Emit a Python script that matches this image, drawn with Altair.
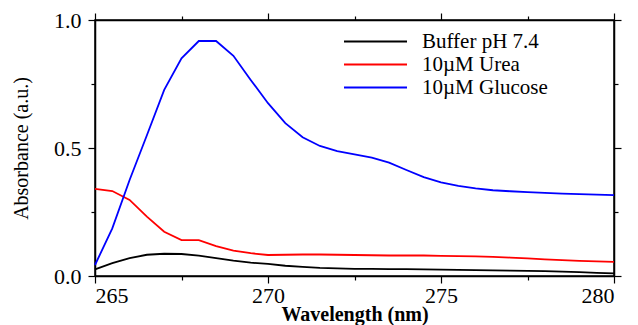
import altair as alt
import pandas as pd

wavelength = [265, 265.5, 266, 266.5, 267, 267.5, 268, 268.5, 269, 269.5, 270,
              270.5, 271, 271.5, 272, 272.5, 273, 273.5, 274, 274.5, 275,
              275.5, 276, 276.5, 277, 277.5, 278, 278.5, 279, 279.5, 280]
buffer = [0.026, 0.05, 0.07, 0.083, 0.087, 0.086, 0.08, 0.07, 0.06, 0.052, 0.047,
          0.04, 0.036, 0.032, 0.030, 0.028, 0.028, 0.027, 0.027, 0.026, 0.025,
          0.024, 0.023, 0.022, 0.021, 0.020, 0.019, 0.017, 0.015, 0.012, 0.010]
urea = [0.34, 0.332, 0.297, 0.232, 0.173, 0.14, 0.14, 0.117, 0.099, 0.089, 0.082,
        0.083, 0.084, 0.084, 0.083, 0.082, 0.081, 0.080, 0.080, 0.080, 0.079,
        0.078, 0.077, 0.075, 0.072, 0.069, 0.065, 0.062, 0.059, 0.057, 0.055]
glucose = [0.043, 0.186, 0.375, 0.55, 0.727, 0.85, 0.918, 0.918, 0.86, 0.766, 0.675,
           0.597, 0.542, 0.508, 0.488, 0.475, 0.462, 0.443, 0.414, 0.386, 0.366,
           0.352, 0.342, 0.335, 0.331, 0.328, 0.325, 0.322, 0.320, 0.318, 0.316]

series_names = ["Buffer pH 7.4", "10\u00b5M Urea", "10\u00b5M Glucose"]
series_colors = ["#000000", "#ff0000", "#0000ff"]
series_widths = [1.8, 1.8, 2.6]
x_ticks = [265, 267.5, 270, 272.5, 275, 277.5, 280]
y_ticks = [0, 0.25, 0.5, 0.75, 1.0]

rows = []
for name, vals in zip(series_names, [buffer, urea, glucose]):
    for w, v in zip(wavelength, vals):
        rows.append({"Wavelength": w, "Absorbance": v, "Series": name})
df = pd.DataFrame(rows)

FONT = "Liberation Serif"
x_major = {"condition": {"test": "datum.value % 5 === 0", "value": 7}, "value": 4}
y_major = {"condition": {"test": "(datum.value * 2) % 1 === 0", "value": 7}, "value": 4}

xscale = alt.Scale(domain=[265, 280], nice=False, zero=False)
yscale = alt.Scale(domain=[0, 1], nice=False)

color = alt.Color("Series:N",
                  scale=alt.Scale(domain=series_names, range=series_colors),
                  sort=series_names,
                  legend=alt.Legend(title=None, orient="none", legendX=248, legendY=11,
                                    symbolType="stroke", symbolSize=3969,
                                    symbolStrokeWidth=2, labelFont=FONT,
                                    labelFontSize=21, labelColor="black",
                                    labelOffset=14, rowPadding=1, clipHeight=21))
swidth = alt.StrokeWidth("Series:N",
                         scale=alt.Scale(domain=series_names, range=series_widths),
                         legend=None)

main = alt.Chart(df).mark_line().encode(
    x=alt.X("Wavelength:Q", scale=xscale,
            axis=alt.Axis(values=x_ticks, title="Wavelength (nm)", format="d",
                          labelExpr="datum.value % 5 === 0 ? datum.label : ''",
                          tickSize=x_major, labelPadding=2, titlePadding=-2,
                          titleFontWeight="bold", titleFontSize=20)),
    y=alt.Y("Absorbance:Q", scale=yscale,
            axis=alt.Axis(values=y_ticks, title="Absorbance (a.u.)", format=".1f",
                          labelExpr="(datum.value * 2) % 1 === 0 ? datum.label : ''",
                          tickSize=y_major, labelPadding=7, titlePadding=22,
                          titleFontWeight="normal", titleFontSize=20)),
    color=color,
    strokeWidth=swidth,
)

frame = alt.Chart(df).mark_line(opacity=0).encode(
    x=alt.X("Wavelength:Q", scale=xscale,
            axis=alt.Axis(orient="top", values=x_ticks, labels=False, title=None,
                          tickSize=x_major)),
    y=alt.Y("Absorbance:Q", scale=yscale,
            axis=alt.Axis(orient="right", values=y_ticks, labels=False, title=None,
                          tickSize=y_major)),
    detail="Series:N",
)

chart = alt.layer(main, frame).resolve_axis(x="independent", y="independent").properties(
    width=519, height=256,
    autosize=alt.AutoSizeParams(type="none"),
    padding={"left": 87, "top": 12, "right": 16, "bottom": 49},
).configure_axis(
    labelFont=FONT, titleFont=FONT, labelFontSize=22, labelColor="black",
    titleColor="black", domainColor="black", domainWidth=1.5, tickColor="black",
    tickWidth=1.2, grid=False,
).configure_view(stroke="black", strokeWidth=1.5)

chart.save("out.html", embed_options={"renderer": "svg", "actions": False})
